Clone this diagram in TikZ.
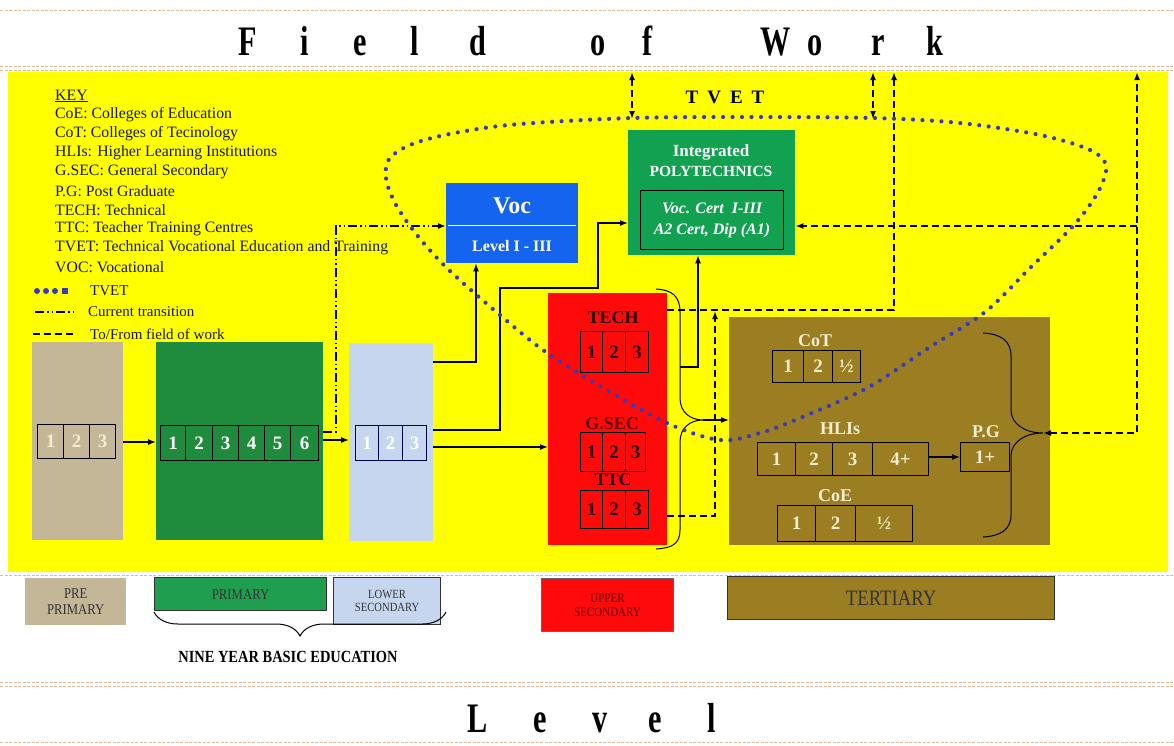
\documentclass[tikz,border=0pt]{standalone}
\usepackage{fontspec}
\setmainfont{Liberation Serif}
\newfontfamily\condfont{Liberation Serif}[FakeStretch=0.72]
\newfontfamily\narrowfont{Liberation Serif}[FakeStretch=0.85]
\usetikzlibrary{arrows.meta,calc,decorations.pathreplacing,decorations.markings}
\definecolor{yel}{HTML}{FFFF00}
\definecolor{tanc}{HTML}{C3B797}
\definecolor{primg}{HTML}{1F8B3D}
\definecolor{lblue}{HTML}{C6D6EE}
\definecolor{vocb}{HTML}{1464F0}
\definecolor{polyg}{HTML}{12A150}
\definecolor{redc}{HTML}{FF0A0A}
\definecolor{olive}{HTML}{9B7E22}
\definecolor{dotb}{HTML}{3838C0}
\definecolor{cream}{HTML}{F4EDD2}
\definecolor{lightline}{HTML}{E2B898}
\definecolor{labgreen}{HTML}{1E9E4E}
\tikzset{
  col/.style={inner sep=0pt, anchor=north west},
  cellw/.style={draw=black, line width=1.2pt, inner sep=0pt, anchor=north west, font=\bfseries\fontsize{19}{19}\selectfont},
  arr/.style={line width=1.2pt, -{Latex[length=8pt,width=6pt]}},
  ddash/.style={line width=1.8pt, dash pattern=on 7pt off 4pt},
  dashdot/.style={line width=1.8pt, dash pattern=on 9pt off 3pt on 1.5pt off 3pt on 1.5pt off 3pt},
  tipd/.style={-{Latex[length=8pt,width=6pt]}},
  light/.style={draw=lightline, line width=1pt, dash pattern=on 3pt off 1.5pt},
  keyt/.style={anchor=west, inner sep=0pt, text=black!90, font=\fontsize{15.8}{15.8}\selectfont},
  big/.style={anchor=base, inner sep=0pt, font=\condfont\bfseries\fontsize{42}{42}\selectfont},
  lab/.style={inner sep=0pt, anchor=north west, align=center, text=black!80, font=\narrowfont\fontsize{15}{16}\selectfont},
  wt/.style={text=white, inner sep=0pt, font=\bfseries\fontsize{14}{14}\selectfont},
  lbl/.style={inner sep=0pt, font=\bfseries\fontsize{18}{18}\selectfont},
  tdots/.style={decoration={markings, mark=between positions 0 and 1 step 9.5pt with {\fill[dotb] (0,0) circle (2.1pt);}}, decorate},
  bracel/.style={line width=1pt, draw=black}
}
\begin{document}
\begin{tikzpicture}[x=1pt,y=-1pt]
\useasboundingbox (0,0) rectangle (1174,745);
\fill[white] (0,0) rectangle (1174,745);
% frame lines
\draw[light] (0,10) -- (1174,10);
\draw[light] (0,66) -- (1174,66);
\draw[light] (0,70) -- (1174,70);
\fill[yel] (8,72) rectangle (1168,572);
\draw[light] (0,575) -- (1174,575);
\draw[light] (0,682) -- (1174,682);
\draw[light] (0,686) -- (1174,686);
\draw[light] (0,742) -- (1174,742);
% titles
\foreach \c/\x [count=\i] in {F/248,i/305,e/360,l/415,d/478,o/598,f/648,W/776,o/815,r/878,k/935}
  \node[big] (fw\i) at (\x,55) {\c};
\foreach \c/\x [count=\i] in {L/478,e/540,v/600,e/655,l/712}
  \node[big] (lv\i) at (\x,732) {\c};
\node[font=\bfseries\fontsize{19}{19}\selectfont, inner sep=0pt] (tvetl) at (725,97) {T\hspace{9pt}V\hspace{9pt}E\hspace{9pt}T};
% key
\node[keyt] (k0) at (55,96) {\underline{KEY}};
\node[keyt] (k1) at (55,115) {CoE: Colleges of Education};
\node[keyt] (k2) at (55,134) {CoT: Colleges of Tecinology};
\node[keyt] (k3) at (55,153) {HLIs: Higher Learning Institutions};
\node[keyt] (k4) at (55,172) {G.SEC: General Secondary};
\node[keyt] (k5) at (55,191) {P.G: Post Graduate};
\node[keyt] (k6) at (55,210) {TECH: Technical};
\node[keyt] (k7) at (55,229) {TTC: Teacher Training Centres};
\node[keyt] (k8) at (55,248) {TVET: Technical Vocational Education and Training};
\node[keyt] (k9) at (55,267) {VOC: Vocational};
% legend
\foreach \x in {37,46,55} \fill[dotb] (\x,291) circle (3);
\fill[dotb] (62,288) rectangle (68,294);
\node[keyt, font=\fontsize{15}{15}\selectfont] (lg1) at (90,291) {TVET};
\draw[dashdot, line width=1.6pt] (35,312) -- (77,312);
\node[keyt, font=\fontsize{15}{15}\selectfont] (lg2) at (88,312) {Current transition};
\draw[ddash, line width=1.6pt] (33,334) -- (77,334);
\node[keyt, font=\fontsize{15}{15}\selectfont] (lg3) at (90,334) {To/From field of work};
% level columns
\node[col, fill=tanc, minimum width=91, minimum height=198] (pre) at (32,342) {};
\node[col, fill=primg, minimum width=167, minimum height=198] (prim) at (156,342) {};
\node[col, fill=lblue, minimum width=84, minimum height=198] (low) at (349,343) {};
\node[col, fill=redc, minimum width=119, minimum height=252] (upper) at (548,293) {};
\node[col, fill=olive, minimum width=321, minimum height=228] (tert) at (729,317) {};
% voc and polytechnics
\node[col, fill=vocb, minimum width=132, minimum height=80] (voc) at (446,183) {};
\draw[white, line width=1.2pt] ($(voc.west)+(2,2)$) -- ($(voc.east)+(-2,2)$);
\node[wt, font=\bfseries\fontsize{24}{24}\selectfont] (voct) at (512,206) {Voc};
\node[wt, font=\bfseries\fontsize{16}{16}\selectfont] (vocl) at (512,246) {Level I - III};
\node[col, fill=polyg, minimum width=167, minimum height=125] (poly) at (628,130) {};
\node[wt, font=\bfseries\fontsize{17}{17}\selectfont] (polyt1) at (711,152) {Integrated};
\node[wt, font=\bfseries\fontsize{15.5}{15.5}\selectfont] (polyt2) at (711,171) {POLYTECHNICS};
\node[draw=black, line width=1.2pt, minimum width=143, minimum height=59, align=center, text=white, inner sep=0pt,
  font=\bfseries\itshape\fontsize{16}{21}\selectfont] (polyin) at (712,220) {Voc. Cert\ \ I-III\\A2 Cert, Dip (A1)};
% cells
\foreach \a/\b/\t [count=\i] in {37/63/1,63/89/2,89/115/3}
  \node[cellw, text=cream, minimum width=\b-\a, minimum height=34] (pp\i) at (\a,424) {\t};
\foreach \a/\b/\t [count=\i] in {160/185/1,185/212/2,212/238/3,238/264/4,264/290/5,290/318/6}
  \node[cellw, text=white, minimum width=\b-\a, minimum height=35] (pr\i) at (\a,425) {\t};
\foreach \a/\b/\t [count=\i] in {355/378/1,378/402/2,402/426/3}
  \node[cellw, draw=black!70!blue, text=white, minimum width=\b-\a, minimum height=35] (ls\i) at (\a,425) {\t};
% upper secondary
\node[lbl, text=black!85!red] (techl) at (613,318) {TECH};
\foreach \a/\b/\t [count=\i] in {580/602/1,602/625/2,625/648/3}
  \node[cellw, text=black!85!red, minimum width=\b-\a, minimum height=41] (te\i) at (\a,331) {\t};
\node[lbl, text=black!60!red] (gsecl) at (612,424) {G.SEC};
\foreach \a/\b/\t [count=\i] in {580/602/1,602/625/2,625/645/3}
  \node[cellw, text=black!85!red, minimum width=\b-\a, minimum height=39] (gs\i) at (\a,432) {\t};
\node[lbl, text=black!85!red] (ttcl) at (613,480) {TTC};
\foreach \a/\b/\t [count=\i] in {580/602/1,602/625/2,625/648/3}
  \node[cellw, text=black!85!red, minimum width=\b-\a, minimum height=38] (tt\i) at (\a,490) {\t};
% tertiary
\node[lbl, text=cream] (cotl) at (815,341) {CoT};
\foreach \a/\b/\t [count=\i] in {772/803/1,803/832/2,832/860/½}
  \node[cellw, text=cream, minimum width=\b-\a, minimum height=32] (ct\i) at (\a,350) {\t};
\node[lbl, text=cream] (hlil) at (840,429) {HLIs};
\foreach \a/\b/\t [count=\i] in {757/795/1,795/832/2,832/872/3,872/928/4+}
  \node[cellw, text=cream, minimum width=\b-\a, minimum height=33] (hl\i) at (\a,442) {\t};
\node[lbl, text=cream] (pgl) at (986,432) {P.G};
\node[cellw, text=cream, minimum width=49, minimum height=29] (pg) at (960,442) {1+};
\node[lbl, text=cream] (coel) at (835,496) {CoE};
\foreach \a/\b/\t [count=\i] in {777/815/1,815/855/2,855/912/½}
  \node[cellw, text=cream, minimum width=\b-\a, minimum height=36] (ce\i) at (\a,505) {\t};
% braces
\coordinate (tip1) at (703,420);
\draw[bracel] (656,289) .. controls (672,290) and (680,296) .. (680,312) -- (680,398)
  .. controls (680,412) and (690,420) .. (tip1) .. controls (690,420) and (680,428) .. (680,442)
  -- (680,530) .. controls (680,544) and (672,548) .. (656,549);
\coordinate (tip2) at (1043,433);
\draw[bracel] (983,333) .. controls (1000,334) and (1011,340) .. (1011,356) -- (1011,410)
  .. controls (1011,424) and (1025,433) .. (tip2) .. controls (1025,433) and (1011,442) .. (1011,456)
  -- (1011,515) .. controls (1011,530) and (1000,536) .. (983,537);
% solid connectors
\draw[arr] (pre.east |- 0,442) -- (prim.west |- 0,442);
\draw[arr] (prim.east |- 0,440) -- (low.west |- 0,440);
\draw[arr] (low.east |- 0,362) -| ($(voc.south west)+(30,0)$);
\draw[arr] (low.east |- 0,430) -- (500,430) -- (500,288) -- (598,288) -- (598,223) -- (poly.west |- 0,223);
\draw[arr] (low.east |- 0,447) -- (upper.west |- 0,447);
\draw[arr] (tip1) -- (tert.west |- tip1);
\draw[arr] (680,367) -- (698,367) -- (poly.south -| 698,0);
\draw[arr] (hl4.east |- 0,457) -- (pg.west |- 0,457);
% current transition
\draw[dashdot, tipd] (prim.east |- 0,432) -- (336,432) -- (336,226) -- (voc.west |- 0,226);
% dashed to/from field of work
\coordinate (top1) at (632,72);
\coordinate (top2) at (873,72);
\coordinate (top3) at (894,72);
\coordinate (top4) at (1137,72);
\draw[ddash, {Latex[length=8pt,width=6pt]}-{Latex[length=8pt,width=6pt]}] (top1) -- (632,119);
\draw[ddash, {Latex[length=8pt,width=6pt]}-{Latex[length=8pt,width=6pt]}] (top2) -- (873,119);
\draw[ddash, tipd] (upper.east |- 0,310) -- (894,310) -- (top3);
\draw[ddash, tipd] (upper.east |- 0,516) -- (715,516) -- (715,311);
\draw[ddash, {Latex[length=8pt,width=6pt]}-{Latex[length=8pt,width=6pt]}] (tip2) -- (1137,433) -- (top4);
\draw[ddash, tipd] (1137,226) -- (poly.east |- 0,226);
% TVET dotted region
\path[tdots] plot[smooth cycle, tension=0.55] coordinates {(720,440) (667,423) (600,386) (543,350) (500,315) (463,283) (437,258) (413,230) (395,203) (386,178) (390,158) (415,143) (460,132) (520,124) (632,118) (750,117) (873,118) (960,123) (1040,135) (1090,150) (1106,166) (1098,192) (1074,225) (1030,268) (985,312) (930,347) (867,388) (800,418) (760,433)};
% bottom labels
\node[lab, fill=tanc, minimum width=101, minimum height=47] (lpre) at (25,578) {PRE\\PRIMARY};
\node[lab, fill=labgreen, draw=black!80, line width=1.2pt, minimum width=172, minimum height=33] (lprim) at (154,577) {PRIMARY};
\node[lab, fill=lblue, draw=black!80, line width=1.2pt, minimum width=107, minimum height=47, font=\narrowfont\fontsize{12.5}{13.5}\selectfont] (llow) at (333,577) {LOWER\\SECONDARY};
\node[lab, fill=redc, draw=black!60, line width=1pt, minimum width=132, minimum height=53, text=black!60!red, font=\narrowfont\fontsize{13}{14}\selectfont] (lup) at (541,578) {UPPER\\SECONDARY};
\node[lab, fill=olive, draw=black!80, line width=1.2pt, minimum width=327, minimum height=43, font=\narrowfont\fontsize{22}{22}\selectfont] (lter) at (727,576) {TERTIARY};
\draw[bracel, decorate, decoration={brace, amplitude=24pt, aspect=0.5, mirror}] (lprim.south west |- 0,612) -- (446,612);
\node[font=\narrowfont\bfseries\fontsize{17}{17}\selectfont, inner sep=0pt] (nine) at (288,657) {NINE YEAR BASIC EDUCATION};
\end{tikzpicture}
\end{document}
